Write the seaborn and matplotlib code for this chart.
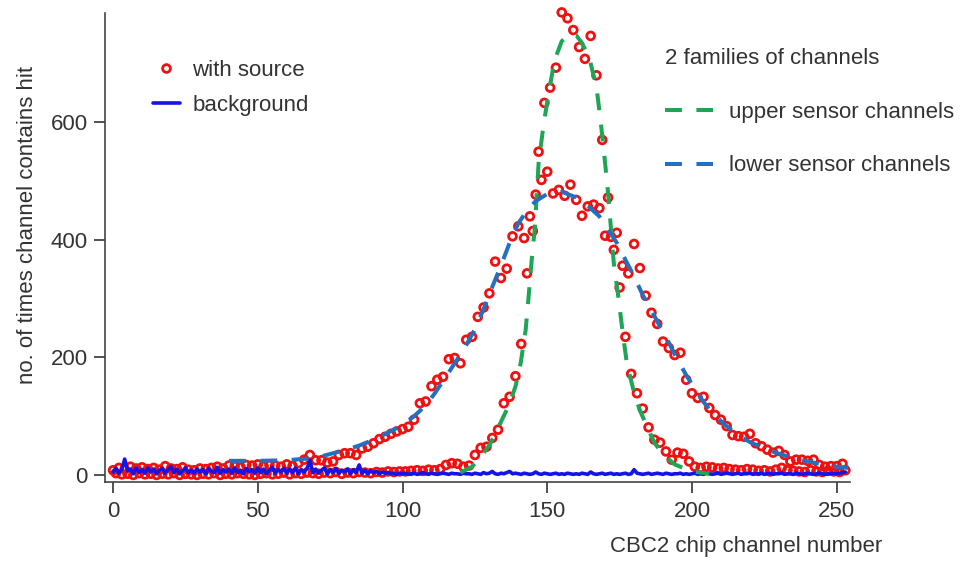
import numpy as np
import pandas as pd
import matplotlib
matplotlib.use("Agg")
import matplotlib.pyplot as plt
import seaborn as sns
from matplotlib.lines import Line2D

# Hits per channel with the source in place; odd channels read out the
# upper sensor, even channels the lower sensor.
upper_channels = np.arange(1, 254, 2)
upper_hits = [
    3, 1, 2, 0, 3, 1, 2, 0, 2, 1,
    3, 0, 2, 1, 0, 2, 1, 3, 0, 2,
    1, 3, 2, 1, 0, 2, 3, 1, 2, 4,
    1, 3, 2, 4, 3, 2, 4, 3, 5, 2,
    4, 3, 5, 4, 3, 5, 4, 6, 5, 6,
    6, 7, 8, 7, 9, 8, 10, 17, 20, 19,
    14, 16, 34, 46, 48, 63, 77, 122, 133, 168,
    223, 343, 415, 550, 633, 659, 693, 787, 777, 757,
    728, 708, 747, 680, 570, 472, 383, 319, 235, 172,
    139, 113, 81, 60, 55, 40, 26, 38, 36, 23,
    14, 12, 14, 13, 11, 12, 10, 9, 8, 10,
    9, 7, 8, 6, 9, 12, 8, 7, 6, 5,
    8, 6, 5, 7, 6, 5, 8,
]

lower_channels = np.arange(0, 253, 2)
lower_hits = [
    8, 12, 10, 14, 11, 13, 10, 12, 9, 15,
    11, 10, 13, 9, 8, 11, 10, 12, 14, 11,
    16, 15, 13, 17, 16, 18, 15, 17, 16, 14,
    18, 15, 20, 26, 34, 25, 25, 21, 23, 34,
    37, 37, 34, 45, 48, 54, 61, 65, 70, 74,
    78, 82, 94, 122, 125, 151, 162, 167, 197, 199,
    190, 230, 235, 269, 285, 309, 363, 335, 351, 406,
    423, 403, 440, 477, 502, 516, 479, 485, 475, 494,
    468, 441, 457, 460, 454, 407, 405, 412, 356, 343,
    393, 352, 305, 276, 257, 227, 216, 204, 208, 162,
    139, 131, 133, 114, 102, 94, 83, 68, 66, 65,
    70, 54, 49, 43, 38, 41, 34, 23, 26, 26,
    24, 26, 17, 14, 15, 15, 19,
]

# Background run without the source, channels 0..253
bg_channels = np.arange(0, 254)
bg_hits = [
    5, 11, 3, 9, 27, 7, 10, 2, 12, 4,
    9, 3, 12, 5, 10, 2, 8, 11, 3, 9,
    14, 4, 10, 2, 7, 12, 4, 8, 3, 10,
    5, 9, 2, 11, 6, 4, 13, 3, 9, 5,
    10, 3, 12, 4, 8, 2, 11, 5, 9, 3,
    12, 4, 10, 2, 8, 13, 3, 9, 5, 11,
    3, 10, 4, 12, 2, 9, 5, 11, 25, 4,
    10, 3, 8, 12, 2, 9, 4, 11, 3, 8,
    5, 10, 2, 9, 4, 17, 3, 8, 2, 7,
    4, 6, 2, 5, 3, 4, 2, 3, 1, 3,
    2, 3, 1, 2, 3, 1, 2, 4, 2, 1,
    3, 2, 1, 2, 3, 2, 1, 3, 2, 2,
    1, 3, 2, 2, 1, 3, 2, 1, 4, 2,
    3, 6, 2, 1, 3, 2, 4, 6, 2, 3,
    2, 1, 3, 2, 1, 2, 5, 2, 1, 3,
    2, 1, 2, 3, 1, 2, 1, 3, 2, 1,
    2, 1, 3, 2, 1, 5, 2, 1, 2, 3,
    1, 2, 3, 1, 2, 1, 2, 3, 1, 2,
    9, 3, 2, 1, 2, 3, 1, 2, 3, 2,
    1, 3, 2, 1, 2, 2, 3, 1, 2, 1,
    2, 3, 1, 2, 1, 3, 2, 1, 2, 3,
    1, 2, 3, 2, 1, 2, 3, 1, 2, 2,
    3, 1, 2, 2, 3, 1, 2, 3, 1, 2,
    2, 3, 1, 2, 2, 1, 3, 2, 1, 2,
    3, 2, 1, 2, 3, 2, 1, 2, 2, 3,
    2, 3, 4, 5,
]

# Fitted profiles of the two channel families
upper_fit_channels = [120, 124, 127, 130, 133, 136.5, 139, 140.8, 142.5, 143.5,
                      144.7, 145.7, 147, 148.7, 150.5, 152.5, 155, 158, 160, 162,
                      164.5, 167, 168.5, 170, 171, 172, 173, 174.5, 176, 177.5,
                      180, 182, 184.5, 187, 190, 194, 200, 206]
upper_fit_hits = [4, 14, 31, 50, 80, 116, 150, 190, 245, 300,
                  370, 420, 530, 595, 650, 705, 738, 750, 748, 735,
                  710, 660, 600, 530, 480, 420, 360, 305, 245, 190,
                  140, 110, 82, 55, 35, 18, 6, 2]

lower_fit_channels = [40, 50, 60, 65, 70, 76, 80, 85, 90, 95,
                      100, 104, 108, 111, 115, 118, 121, 125, 128, 131,
                      134, 137, 140, 143, 146, 150, 155, 160, 164, 168,
                      171, 174, 177, 180, 183, 186, 189, 192, 195, 198,
                      201, 204, 207, 211, 215, 220, 225, 230, 235, 240,
                      245, 250, 254]
lower_fit_hits = [24, 24, 25, 27, 29, 37, 42, 50, 60, 72,
                  85, 100, 118, 138, 167, 190, 212, 248, 282, 320,
                  356, 395, 428, 450, 466, 478, 482, 472, 458, 440,
                  418, 395, 366, 338, 306, 280, 252, 225, 196, 170,
                  146, 124, 106, 87, 71, 56, 45, 36, 29, 23,
                  18, 14, 12]

x_ticks = [0, 50, 100, 150, 200, 250]
y_ticks = [0, 200, 400, 600]

RED = "#f01010"
BG_BLUE = "#1414e8"
GREEN = "#1fa556"
FIT_BLUE = "#2470c0"
INK = "#333333"
DASH = (0, (4.2, 3.6))
MARKER_PT = 5.6
MARKER_EDGE = 2.0

sns.set_style("ticks")
plt.rcParams["font.family"] = ["Liberation Sans", "DejaVu Sans"]
plt.rcParams["font.size"] = 16
plt.rcParams["text.color"] = INK
plt.rcParams["axes.labelcolor"] = INK
plt.rcParams["xtick.color"] = INK
plt.rcParams["ytick.color"] = INK

source = pd.DataFrame({
    "channel": np.concatenate([upper_channels, lower_channels]),
    "hits": np.concatenate([upper_hits, lower_hits]),
}).sort_values("channel")
background = pd.DataFrame({"channel": bg_channels, "hits": bg_hits})
upper_fit = pd.DataFrame({"channel": upper_fit_channels, "hits": upper_fit_hits})
lower_fit = pd.DataFrame({"channel": lower_fit_channels, "hits": lower_fit_hits})

fig = plt.figure(figsize=(9.68, 5.62), dpi=100)
ax = fig.add_axes([0.10847, 0.14235, 0.76963, 0.83452])

sns.scatterplot(data=source, x="channel", y="hits", ax=ax, marker="o",
                s=MARKER_PT ** 2, facecolors="none", edgecolor=RED,
                linewidth=MARKER_EDGE, zorder=2, clip_on=False, legend=False)
sns.lineplot(data=background, x="channel", y="hits", ax=ax, color=BG_BLUE,
             lw=2.6, estimator=None, zorder=3, legend=False)
sns.lineplot(data=upper_fit, x="channel", y="hits", ax=ax, color=GREEN,
             lw=2.9, linestyle=DASH, estimator=None, zorder=4, legend=False)
sns.lineplot(data=lower_fit, x="channel", y="hits", ax=ax, color=FIT_BLUE,
             lw=2.9, linestyle=DASH, estimator=None, zorder=4, legend=False)

ax.set_xlim(-2.8, 254.6)
ax.set_ylim(-12, 786)
ax.set_xticks(x_ticks)
ax.set_yticks(y_ticks)
ax.tick_params(direction="out", length=8, width=1.2, labelsize=16)
ax.tick_params(axis="y", pad=4.5)
ax.tick_params(axis="x", pad=6)
for side in ("top", "right"):
    ax.spines[side].set_visible(False)
for side in ("left", "bottom"):
    ax.spines[side].set_color("#444444")
    ax.spines[side].set_linewidth(1.2)

ax.set_xlabel("CBC2 chip channel number", ha="center", va="center")
ax.xaxis.set_label_coords(0.861, -0.1365)
ax.set_ylabel("no. of times channel contains hit", ha="center", va="center")
ax.yaxis.set_label_coords(-0.104, 0.548)

leg1 = ax.legend(
    handles=[Line2D([], [], ls="none", marker="o", mfc="none", mec=RED,
                    ms=MARKER_PT, mew=MARKER_EDGE),
             Line2D([], [], color=BG_BLUE, lw=2.6)],
    labels=["with source", "background"],
    loc="upper left", bbox_to_anchor=(0.158, 0.893), bbox_transform=fig.transFigure,
    frameon=False, handlelength=1.2, handletextpad=0.58, labelspacing=0.63,
    borderpad=0, borderaxespad=0, fontsize=16)
ax.add_artist(leg1)

ax.legend(
    handles=[Line2D([], [], color=GREEN, lw=2.9, ls=DASH),
             Line2D([], [], color=FIT_BLUE, lw=2.9, ls=DASH)],
    labels=["upper sensor channels", "lower sensor channels"],
    title="2 families of channels", title_fontsize=16, alignment="left",
    loc="upper left", bbox_to_anchor=(0.687, 0.9145), bbox_transform=fig.transFigure,
    frameon=False, handlelength=2.16, handletextpad=0.72, labelspacing=1.47,
    borderpad=0, borderaxespad=0, fontsize=16)

fig.savefig("out.png", dpi=100)
